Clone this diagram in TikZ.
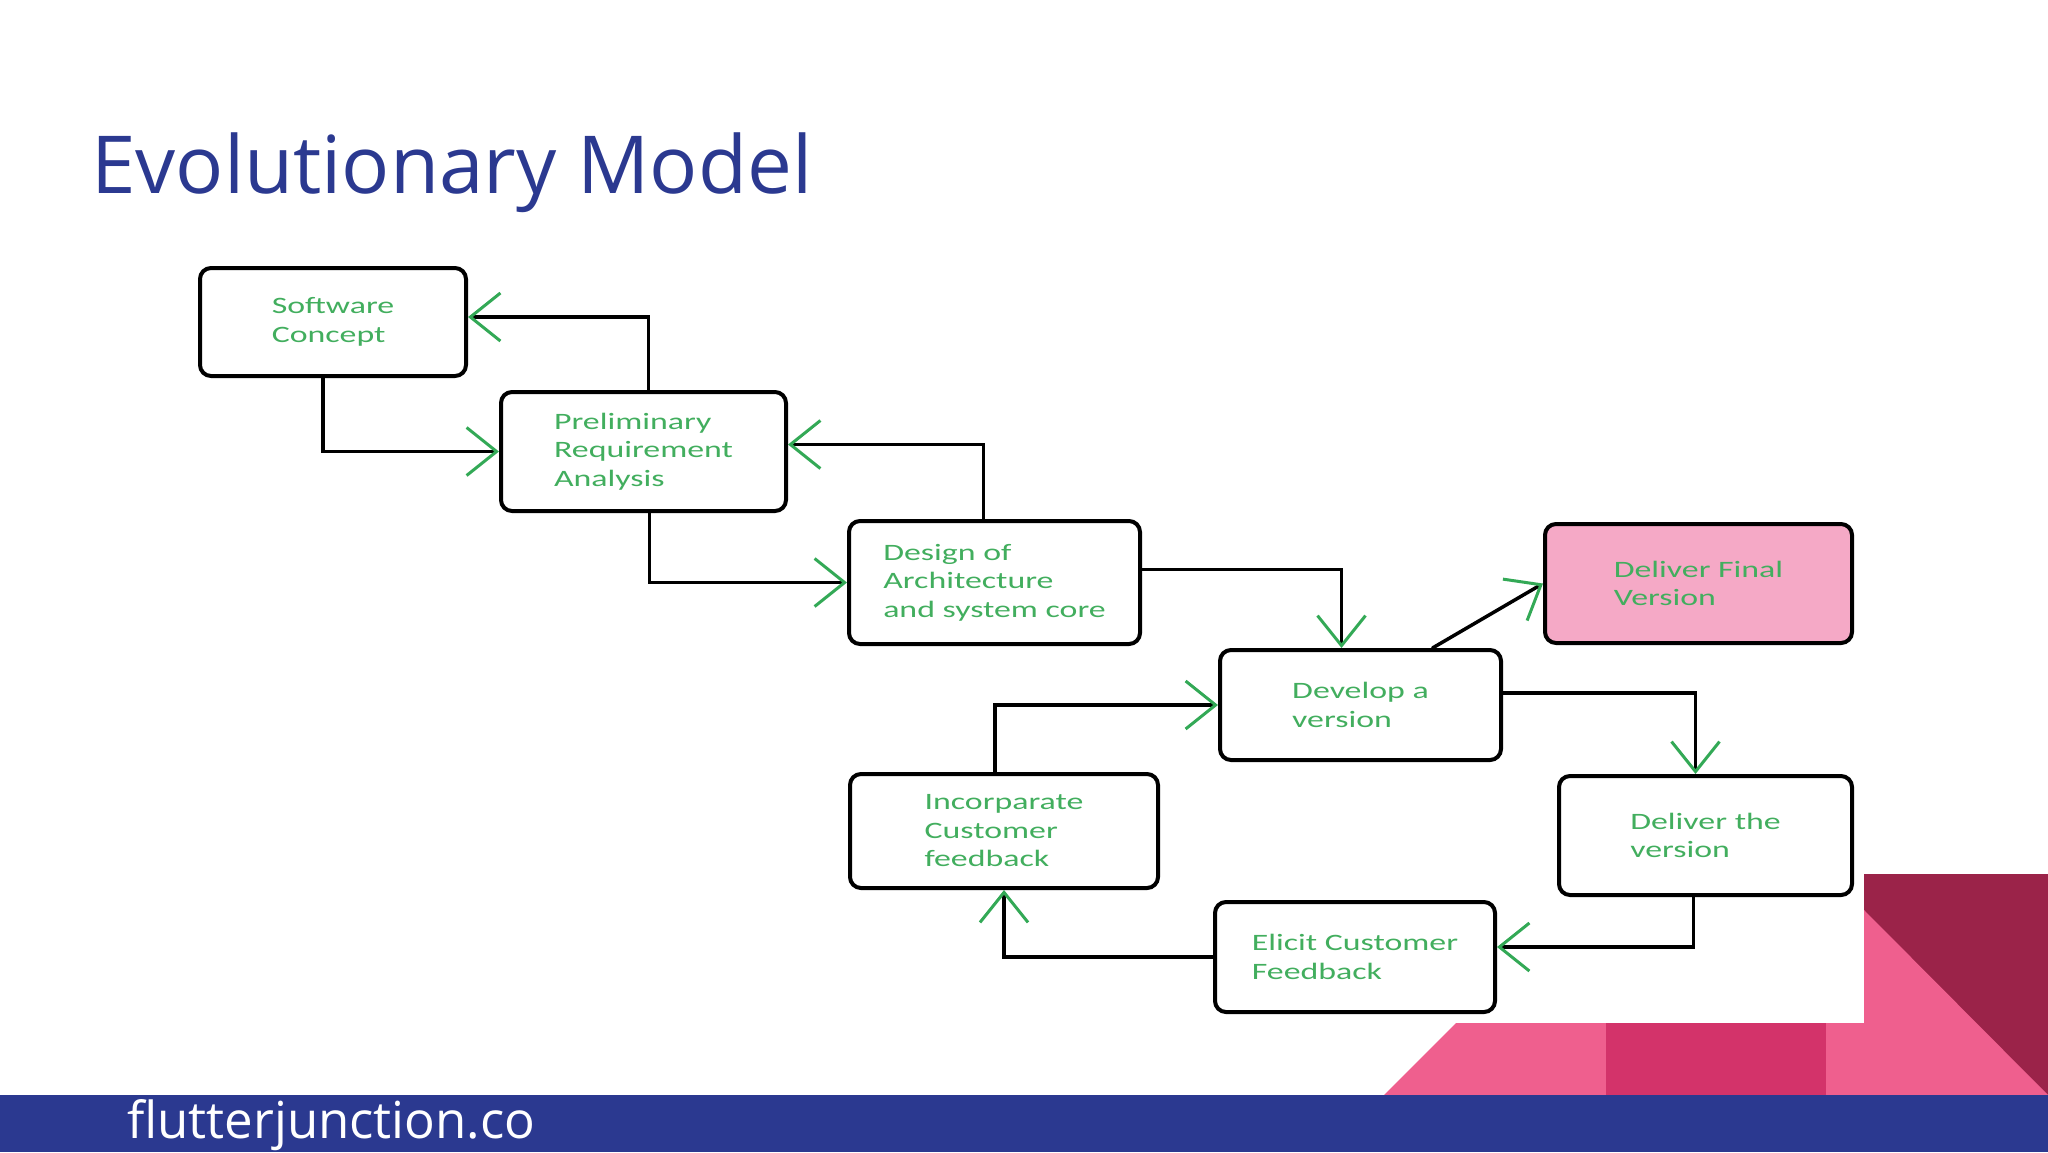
\documentclass[tikz,border=0pt]{standalone}
\usepackage{fontspec}
\usetikzlibrary{arrows.meta,calc}
\newfontfamily\titlefont{Open Sans}
\newfontfamily\boxfont[FakeStretch=1.44]{Carlito}
\definecolor{navybar}{HTML}{2B3990}
\definecolor{textgreen}{HTML}{42AE5E}
\definecolor{arrowgreen}{HTML}{33A956}
\definecolor{finalpink}{HTML}{F5A9C6}
\definecolor{maroon}{HTML}{9B2349}
\definecolor{pinkmid}{HTML}{EF5F8E}
\definecolor{pinkdark}{HTML}{D3336A}

\tikzset{
  stage/.style={draw=black, line width=4pt, rounded corners=11pt, fill=white,
    font={\boxfont\fontsize{23.5}{28.5}\selectfont}, text=textgreen,
    align=left, inner sep=0pt},
  flow/.style={line width=3.5pt, line cap=round,
    -{Straight Barb[length=30pt, width=48pt, line width=3pt, color=arrowgreen]}},
}

\begin{document}
\begin{tikzpicture}[x=1pt, y=-1pt]
  \useasboundingbox (0,0) rectangle (2048,1152);

  % corner decoration and footer bar
  \fill[maroon] (1864,874) rectangle (2048,1095);
  \fill[pinkmid] (1864,910) -- (2048,1095) -- (1384,1095) -- (1456,1023) -- (1864,1023) -- cycle;
  \fill[pinkdark] (1606,1023) rectangle (1826,1095);
  \fill[navybar] (0,1095) rectangle (2048,1152);

  \node[anchor=base west, inner sep=0pt, text=navybar, font={\titlefont\fontsize{80}{96}\selectfont}] (title) at (91,193) {Evolutionary Model};
  \node[anchor=base west, inner sep=0pt, text=white, font={\titlefont\fontsize{51}{60}\selectfont}] (site) at (127,1138) {flutterjunction.co};

  % stages
  \node[stage, minimum width=266pt, minimum height=108pt] (sc) at (333,322) {Software\\Concept};
  \node[stage, minimum width=285pt, minimum height=119pt] (pra) at (643.5,451.5) {Preliminary\\Requirement\\Analysis};
  \node[stage, minimum width=291pt, minimum height=123pt] (da) at (994.5,582.5) {Design of\\Architecture\\and system core};
  \node[stage, minimum width=281pt, minimum height=110pt] (dv) at (1360.5,705) {Develop a\\version};
  \node[stage, fill=finalpink, minimum width=307pt, minimum height=119pt] (dfv) at (1698.5,583.5) {Deliver Final\\Version};
  \node[stage, minimum width=293pt, minimum height=119pt] (dtv) at (1705.5,835.5) {Deliver the\\version};
  \node[stage, minimum width=280pt, minimum height=110pt] (ecf) at (1355,957) {Elicit Customer\\Feedback};
  \node[stage, minimum width=308pt, minimum height=114pt] (icf) at (1004,831) {Incorparate\\Customer\\feedback};

  % connectors
  \draw[flow] ([xshift=-10pt]sc.south) |- (pra.west);
  \draw[flow] ([xshift=5pt]pra.north) |- ([yshift=5pt]sc.east);
  \draw[flow] ([xshift=6pt]pra.south) |- (da.west);
  \draw[flow] ([xshift=-11pt]da.north) |- ([yshift=7pt]pra.east);
  \draw[flow] ([yshift=13pt]da.east) -| ([xshift=-19pt]dv.north);
  \draw[flow] ([xshift=72pt]dv.north) -- (dfv.west);
  \draw[flow] ([yshift=12pt]dv.east) -| ([xshift=-10pt]dtv.north);
  \draw[flow] ([xshift=-12pt]dtv.south) |- ([yshift=10pt]ecf.east);
  \draw[flow] (ecf.west) -| (icf.south);
  \draw[flow] ([xshift=-9pt]icf.north) |- (dv.west);
\end{tikzpicture}
\end{document}
